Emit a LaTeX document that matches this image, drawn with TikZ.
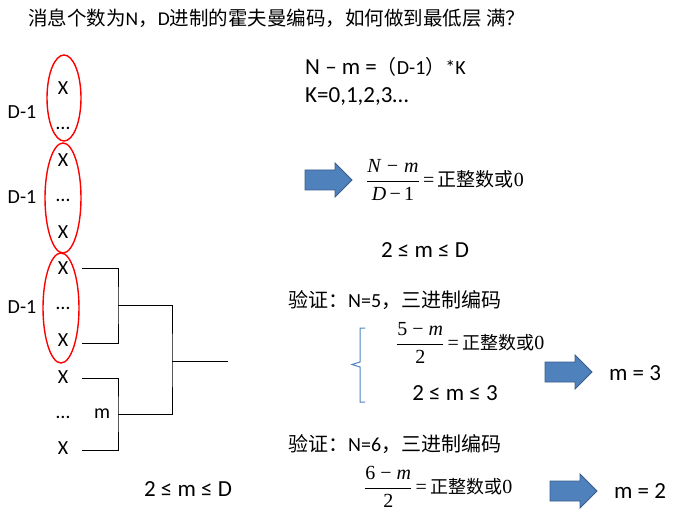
\documentclass[tikz,border=0pt]{standalone}
\usepackage{fontspec}
\setmainfont{Carlito}
\newfontfamily\cjk{Noto Sans CJK SC}
\newfontfamily\tms{Liberation Serif}
\newcommand{\tx}[1]{\hbox{\tms #1}}
\begin{document}
\begin{tikzpicture}[x=1pt,y=-1pt,
  txt/.style={inner sep=0pt,font=\fontsize{23}{26}\selectfont},
  sm/.style={inner sep=0pt,font=\fontsize{20}{22}\selectfont},
  oval/.style={draw=red,line width=1.4pt},
  br/.style={line width=0.9pt},
  bluearrow/.style={fill={rgb,255:red,79;green,129;blue,189},draw={rgb,255:red,56;green,93;blue,138},line width=0.8pt},
  frac/.style={anchor=west,inner sep=0pt,font=\fontsize{20}{24}\selectfont}]
\useasboundingbox (0,0) rectangle (697,516);
\node[sm,anchor=west] (title) at (28,18) {\cjk\fontsize{19.5}{22}\selectfont 消息个数为\normalfont N\cjk，\normalfont D\cjk 进制的霍夫曼编码，如何做到最低层 满？};
% leaves
\foreach \n/\y/\t in {a/88/X,b/128/\dots,c/160/X,d/200/\dots,e/232/X,f/268/X,g/308/\dots,h/340/X,i/377/X,j/417/\dots,k/448/X}
  \node[sm] (\n) at (63,\y) {\t};
\node[sm] (m) at (102,414) {m};
\foreach \n/\y in {l1/112,l2/197,l3/307} \node[sm] (\n) at (22,\y) {D-1};
\draw[oval] (64,98) ellipse (17 and 43);
\draw[oval] (63,198) ellipse (18 and 55);
\draw[oval] (61,308) ellipse (18 and 55);
\coordinate (p1) at (118,305);
\coordinate (p2) at (118,414);
\coordinate (r) at (172,361);
\coordinate (root) at (228,361);
\draw[br] (82,268) -| (p1) |- (82,343);
\draw[br] (82,378) -| (p2) |- (82,450);
\draw[br] (p1) -| (r) |- (p2);
\draw[br] (r) -- (root);
\node[txt] (c1) at (188,489) {2 ≤ m ≤ D};
% right
\node[txt,anchor=west] (eq) at (305,67) {N – m =\cjk\fontsize{20}{22}\selectfont（\normalfont D-1\cjk\fontsize{20}{22}\selectfont）\normalfont*K};
\node[txt,anchor=west] (k) at (305,97) {K=0,1,2,3…};
\coordinate (ar1) at (305,180);
\draw[bluearrow] (ar1) ++(0,-10) -- ++(30,0) -- ++(0,-7) -- ++(17,17) -- ++(-17,17) -- ++(0,-7) -- ++(-30,0) -- cycle;
\node[frac] (f1) at (366,180) {$\displaystyle\frac{\tx{\itshape N − m}}{\tx{\itshape D\upshape\,−\,1}}$\,\tx{=}\,{\cjk\fontsize{19}{20}\selectfont 正整数或}\tx{0}};
\node[txt] (c2) at (425,250) {2 ≤ m ≤ D};
\node[sm,anchor=west] (v1) at (288,300) {\cjk 验证：\normalfont N=5\cjk，三进制编码};
\draw[draw={rgb,255:red,79;green,129;blue,189},line width=1pt] (365,328) -- (360,328) -- (360,362) -- (352,364.5) -- (360,367) -- (360,402) -- (365,402);
\node[frac] (f2) at (396,343) {$\displaystyle\frac{\tx{5 − \itshape m}}{\tx{2}}$\,\tx{=}\,{\cjk\fontsize{18}{20}\selectfont 正整数或}\tx{0}};
\node[txt] (c3) at (455,393) {2 ≤ m ≤ 3};
\coordinate (ar2) at (545,372);
\draw[bluearrow] (ar2) ++(0,-10) -- ++(30,0) -- ++(0,-7) -- ++(17,17) -- ++(-17,17) -- ++(0,-7) -- ++(-30,0) -- cycle;
\node[txt] (r1) at (635,373) {m = 3};
\node[sm,anchor=west] (v2) at (288,444) {\cjk 验证：\normalfont N=6\cjk，三进制编码};
\node[frac] (f3) at (364,487) {$\displaystyle\frac{\tx{6 − \itshape m}}{\tx{2}}$\,\tx{=}\,{\cjk\fontsize{18}{20}\selectfont 正整数或}\tx{0}};
\coordinate (ar3) at (550,491);
\draw[bluearrow] (ar3) ++(0,-10) -- ++(30,0) -- ++(0,-7) -- ++(17,17) -- ++(-17,17) -- ++(0,-7) -- ++(-30,0) -- cycle;
\node[txt] (r2) at (640,491) {m = 2};
\end{tikzpicture}
\end{document}
